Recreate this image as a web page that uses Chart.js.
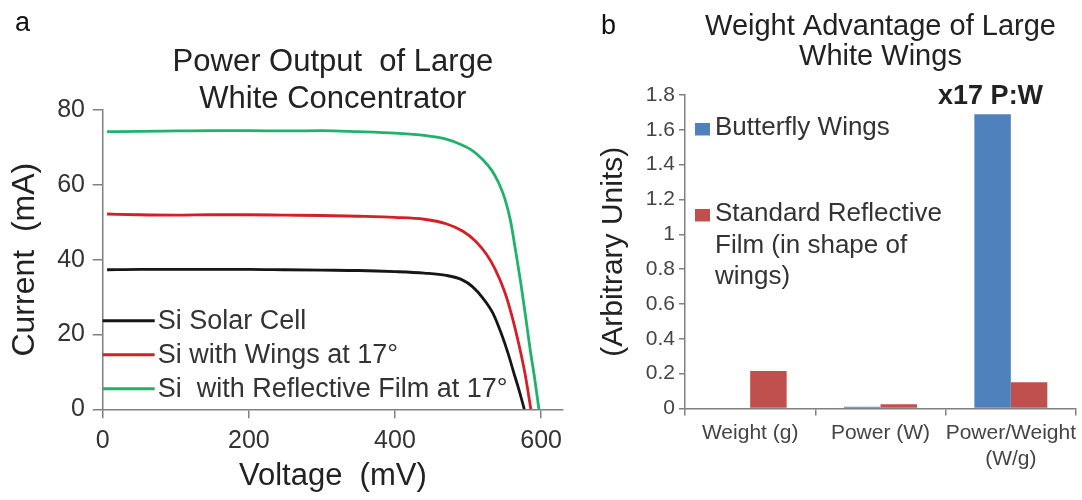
<!DOCTYPE html>
<html>
<head>
<meta charset="utf-8">
<script src="https://cdn.jsdelivr.net/npm/chart.js@4"></script>
<style>
  html, body { margin: 0; padding: 0; background: #fff; }
  #wrap { position: relative; width: 1082px; height: 500px; font-family: "Liberation Sans", Arial, sans-serif; }
  canvas { position: absolute; top: 0; }
  #iv { left: 0; }
  #wt { left: 570px; }
  .tag { position: absolute; font-size: 27px; line-height: 1; color: #111; }
</style>
</head>
<body>
<div id="wrap">
  <canvas id="iv" width="570" height="500"></canvas>
  <canvas id="wt" width="512" height="500"></canvas>
  <div class="tag" style="left:15px;top:9px">a</div>
  <div class="tag" style="left:601px;top:12px">b</div>
</div>
<script>
// panel a: I-V curves (mV, mA)
const cellMv = [6, 50, 100, 150, 200, 250, 300, 350, 400, 440, 470, 492, 506, 520, 534, 545, 555, 563, 570, 577];
const cellMa = [37.3, 37.4, 37.4, 37.4, 37.4, 37.3, 37.2, 37.1, 36.8, 36.4, 35.8, 34.6, 32.8, 29.8, 25.7, 20.5, 14.8, 9.5, 5, 0];
const wingsMv = [6, 50, 100, 150, 200, 250, 300, 350, 400, 440, 470, 493, 510, 525, 537, 550, 560, 570, 578, 586];
const wingsMa = [52.2, 52, 51.9, 52, 52, 51.9, 51.8, 51.6, 51.3, 50.8, 49.6, 47.6, 45, 41.5, 37.5, 31.5, 25, 17, 9.5, 0];
const filmMv = [6, 50, 100, 150, 200, 250, 300, 350, 400, 440, 470, 490, 505, 520, 532, 542, 550, 558, 565, 572, 579, 585, 591, 597];
const filmMa = [74.2, 74.3, 74.4, 74.5, 74.5, 74.4, 74.5, 74.2, 73.8, 73.2, 72.2, 70.8, 69.3, 66.8, 64, 60.5, 56.5, 50.5, 42.5, 34, 24.5, 16, 8.5, 0];
const voltageTicks = [0, 200, 400, 600];
const currentTicks = [0, 20, 40, 60, 80];

// panel b: bars
const barCategories = ["Weight (g)", "Power (W)", ["Power/Weight", "(W/g)"]];
const butterflyWings = [0, 0.01, 1.69];
const reflectiveFilm = [0.215, 0.025, 0.15];
const unitTicks = [0, 0.2, 0.4, 0.6, 0.8, 1, 1.2, 1.4, 1.6, 1.8];
const ratioNote = "x17 P:W";

Chart.defaults.font.family = '"Liberation Sans", Arial, sans-serif';
Chart.defaults.color = "#333";

const axisGrey = "#808080";
const pts = (xs, ys) => xs.map((x, i) => ({ x, y: ys[i] }));

// legend sitting inside the plot, bottom left
const lineLegend = {
  id: "lineLegend",
  afterDraw(chart) {
    const { ctx, chartArea } = chart;
    ctx.save();
    ctx.font = '27px "Liberation Sans", Arial, sans-serif';
    ctx.textBaseline = "middle";
    ctx.fillStyle = "#333";
    chart.data.datasets.forEach((ds, i) => {
      const y = chartArea.bottom - 88.6 + i * 34;
      ctx.strokeStyle = ds.borderColor;
      ctx.lineWidth = 3;
      ctx.beginPath();
      ctx.moveTo(chartArea.left, y);
      ctx.lineTo(chartArea.left + 52, y);
      ctx.stroke();
      ctx.fillText(ds.label, chartArea.left + 55, y + 1);
    });
    ctx.restore();
  },
};

new Chart(document.getElementById("iv"), {
  type: "line",
  data: {
    datasets: [
      { label: "Si Solar Cell", data: pts(cellMv, cellMa), borderColor: "#161616" },
      { label: "Si with Wings at 17°", data: pts(wingsMv, wingsMa), borderColor: "#d41f27" },
      { label: "Si  with Reflective Film at 17°", data: pts(filmMv, filmMa), borderColor: "#20b26b" },
    ],
  },
  options: {
    responsive: false,
    animation: false,
    layout: { padding: { left: 0, right: 6, top: 0, bottom: 0 } },
    elements: {
      point: { radius: 0 },
      line: { borderWidth: 2.8, cubicInterpolationMode: "monotone" },
    },
    plugins: {
      legend: { display: false },
      tooltip: { enabled: false },
      title: {
        display: true,
        text: ["Power Output  of Large", "White Concentrator"],
        fullSize: false,
        color: "#222",
        font: { size: 31, weight: "normal", lineHeight: 1.21 },
        padding: { top: 43.2, bottom: -8.2 },
      },
    },
    scales: {
      x: {
        type: "linear",
        min: 0,
        max: 630,
        afterBuildTicks: (s) => { s.ticks = voltageTicks.map((v) => ({ value: v })); },
        afterFit: (s) => { s.height = 90.7; },
        border: { color: axisGrey, width: 1.5 },
        grid: { drawOnChartArea: false, tickLength: 9, color: axisGrey, lineWidth: 1.5 },
        ticks: { padding: 7.7, color: "#333", font: { size: 25 } },
        title: {
          display: true,
          text: "Voltage  (mV)",
          color: "#222",
          font: { size: 31 },
          padding: { top: 0, bottom: 5.4 },
        },
      },
      y: {
        min: 0,
        max: 80,
        afterBuildTicks: (s) => { s.ticks = currentTicks.map((v) => ({ value: v })); },
        afterFit: (s) => { s.width = 102.7; },
        border: { color: axisGrey, width: 1.5 },
        grid: { drawOnChartArea: false, tickLength: 10, color: axisGrey, lineWidth: 1.5 },
        ticks: { padding: 7.7, color: "#333", font: { size: 25 } },
        title: {
          display: true,
          text: "Current  (mA)",
          color: "#222",
          font: { size: 32 },
          padding: { top: 5.8, bottom: 0 },
        },
      },
    },
  },
  plugins: [lineLegend],
});

// square-marker legend with wrapped labels + the ratio note over the tall bar
const barExtras = {
  id: "barExtras",
  afterDatasetsDraw(chart) {
    const { ctx, chartArea } = chart;
    ctx.save();
    ctx.font = '26px "Liberation Sans", Arial, sans-serif';
    ctx.textBaseline = "middle";
    const rows = [33, 119];
    chart.data.datasets.forEach((ds, i) => {
      const words = ds.label.split(" ");
      const lines = [];
      let cur = "";
      words.forEach((w) => {
        const next = cur ? cur + " " + w : w;
        if (cur && ctx.measureText(next).width > 240) { lines.push(cur); cur = w; }
        else cur = next;
      });
      lines.push(cur);
      const y0 = chartArea.top + rows[i];
      ctx.fillStyle = ds.backgroundColor;
      ctx.fillRect(chartArea.left + 10, y0 - 5, 15, 12.5);
      ctx.fillStyle = "#333";
      lines.forEach((ln, k) => ctx.fillText(ln, chartArea.left + 30, y0 + k * 31.5));
    });

    const bar = chart.getDatasetMeta(0).data[2];
    ctx.font = 'bold 27px "Liberation Sans", Arial, sans-serif';
    ctx.textAlign = "center";
    ctx.fillStyle = "#222";
    ctx.fillText(ratioNote, bar.x - 2, bar.y - 18);
    ctx.restore();
  },
};

new Chart(document.getElementById("wt"), {
  type: "bar",
  data: {
    labels: barCategories,
    datasets: [
      { label: "Butterfly Wings", data: butterflyWings, backgroundColor: "#4f81bd" },
      { label: "Standard Reflective Film (in shape of wings)", data: reflectiveFilm, backgroundColor: "#c0504d" },
    ],
  },
  options: {
    responsive: false,
    animation: false,
    layout: { padding: { left: 0, right: 6, top: 0, bottom: 0 } },
    datasets: { bar: { categoryPercentage: 0.56, barPercentage: 1 } },
    plugins: {
      legend: { display: false },
      tooltip: { enabled: false },
      title: {
        display: true,
        text: ["Weight Advantage of Large", "White Wings"],
        fullSize: false,
        color: "#222",
        font: { size: 29, weight: "normal", lineHeight: 1.034 },
        padding: { top: 11.7, bottom: 23.3 },
      },
    },
    scales: {
      x: {
        afterFit: (s) => { s.height = 91.5; },
        border: { color: axisGrey, width: 1.5 },
        grid: { drawOnChartArea: false, tickLength: 7, color: axisGrey, lineWidth: 1.5 },
        ticks: { padding: 4.5, color: "#444", font: { size: 21, lineHeight: 1.24 }, maxRotation: 0, autoSkip: false },
      },
      y: {
        min: 0,
        max: 1.8,
        afterBuildTicks: (s) => { s.ticks = unitTicks.map((v) => ({ value: v })); },
        afterFit: (s) => { s.width = 115; },
        border: { color: axisGrey, width: 1.5 },
        grid: { drawOnChartArea: false, tickLength: 6, color: axisGrey, lineWidth: 1.5 },
        ticks: { padding: 4, color: "#444", font: { size: 21 }, callback: (v) => String(v) },
        title: {
          display: true,
          text: "(Arbitrary Units)",
          color: "#222",
          font: { size: 30 },
          padding: { top: 26, bottom: 0 },
        },
      },
    },
  },
  plugins: [barExtras],
});
</script>
</body>
</html>
